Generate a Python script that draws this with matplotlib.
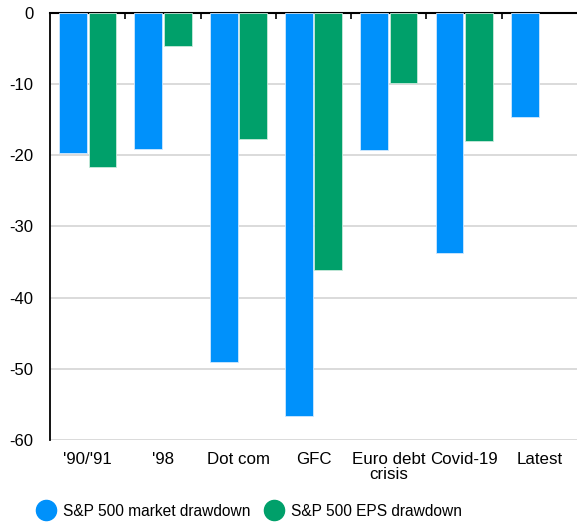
import numpy as np
import matplotlib
matplotlib.use("Agg")
import matplotlib.pyplot as plt
from matplotlib.lines import Line2D

plt.rcParams["font.family"] = ["Liberation Sans", "DejaVu Sans"]
plt.rcParams["axes.unicode_minus"] = False

# Drawdowns (%) by episode
episodes = ["'90/'91", "'98", "Dot com", "GFC", "Euro debt\ncrisis", "Covid-19", "Latest"]
market_drawdown = [-19.7, -19.1, -49.0, -56.6, -19.2, -33.8, -14.6]
eps_drawdown = [-21.6, -4.6, -17.7, -36.1, -9.8, -18.0, np.nan]

blue = "#0091fb"
green = "#00a06a"

fig = plt.figure(figsize=(5.77, 5.23), dpi=100)
ax = fig.add_axes([0.087, 0.159, 0.913, 0.816])

x = np.arange(len(episodes))
w = 0.37
ax.bar(x - w / 2 - 0.01, market_drawdown, w, color=blue, edgecolor="#cfe8ff", linewidth=0.6, zorder=3)
ax.bar(x + w / 2 + 0.01, eps_drawdown, w, color=green, edgecolor="#c8eadb", linewidth=0.6, zorder=3)

ax.set_ylim(-60, 0)
ax.set_xlim(-0.5, len(episodes) - 0.5)
ax.set_yticks(np.arange(-60, 1, 10))
ax.yaxis.grid(True, color="#d4d4d4", linewidth=1.2, zorder=0)
ax.set_axisbelow(True)

ax.set_xticks(x)
ax.set_xticklabels(episodes, fontsize=12.2, linespacing=1.0)
ax.set_xticks(np.arange(0.5, len(episodes) - 0.5, 1), minor=True)
ax.tick_params(axis="x", which="major", length=0, pad=9)
ax.tick_params(axis="x", which="minor", top=True, bottom=False, direction="in", length=4, width=1.2)
ax.tick_params(axis="y", length=0, labelsize=12, pad=12)

for side in ["right", "bottom"]:
    ax.spines[side].set_visible(False)
ax.spines["left"].set_linewidth(1.3)
ax.spines["top"].set_linewidth(1.5)

handles = [
    Line2D([], [], marker="o", linestyle="", markersize=14.5, color=blue),
    Line2D([], [], marker="o", linestyle="", markersize=14.5, color=green),
]
fig.legend(handles, ["S&P 500 market drawdown", "S&P 500 EPS drawdown"],
           loc="lower left", bbox_to_anchor=(0.029, -0.019), ncol=2, frameon=False,
           fontsize=11.2, handletextpad=0.1, columnspacing=0.5)

fig.savefig("out.png", dpi=100)
